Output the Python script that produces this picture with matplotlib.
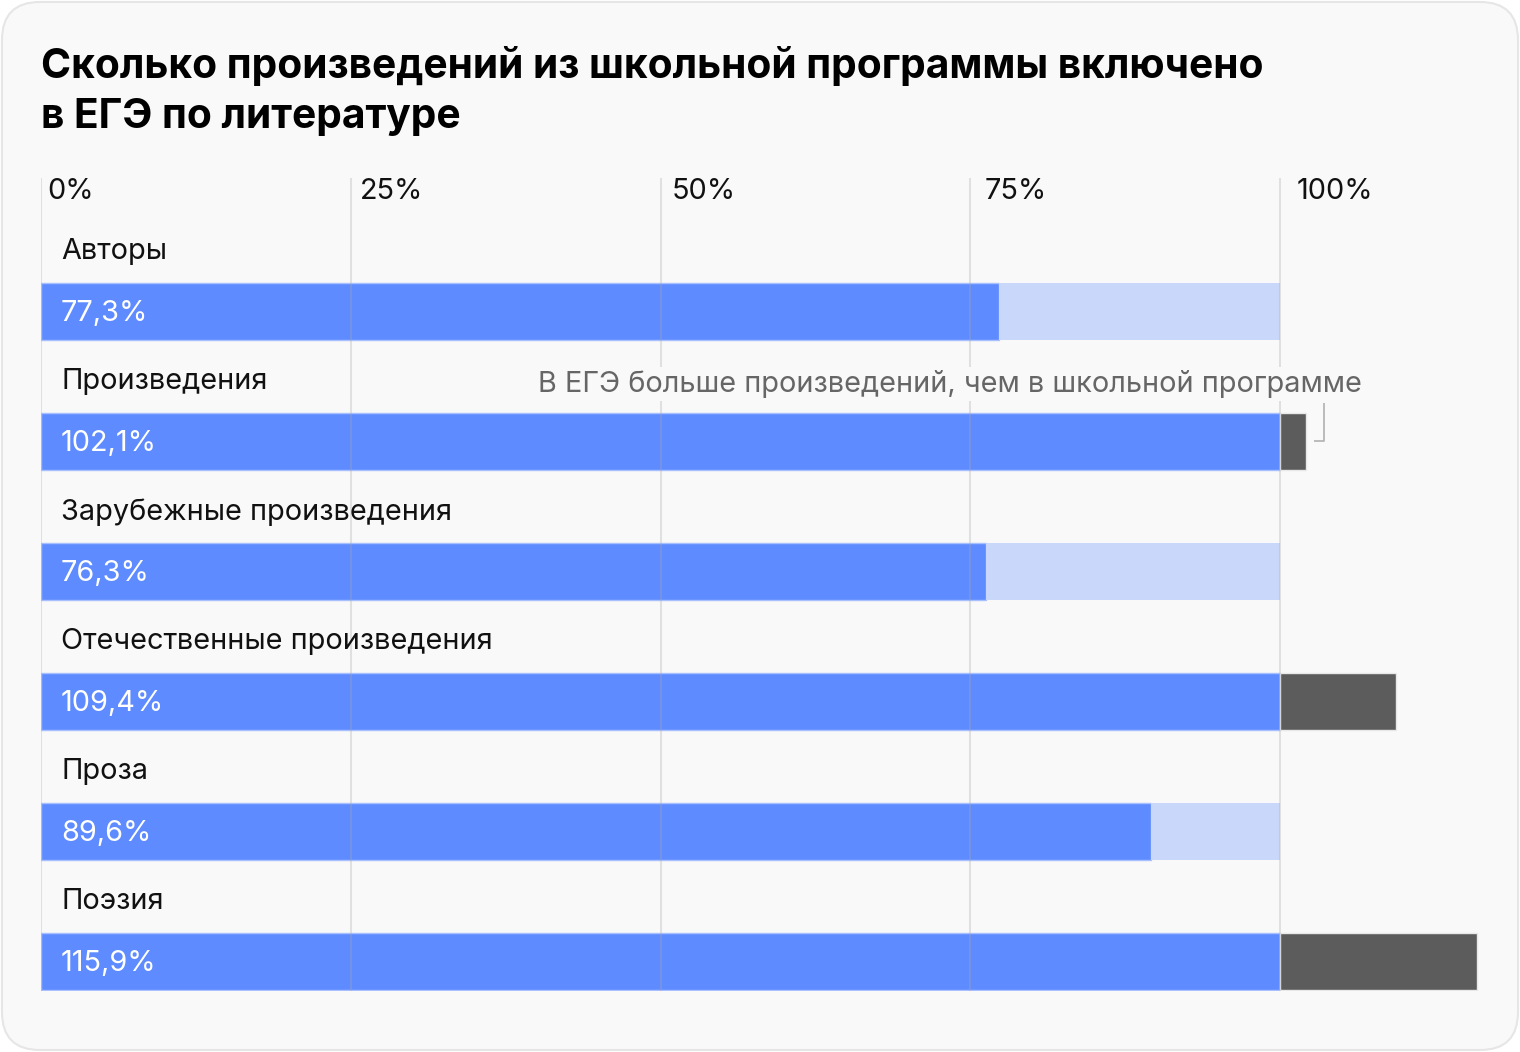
import matplotlib
matplotlib.use("Agg")
import matplotlib.pyplot as plt
from matplotlib.patches import FancyBboxPatch

categories = [
    "Авторы",
    "Произведения",
    "Зарубежные произведения",
    "Отечественные произведения",
    "Проза",
    "Поэзия",
]
values = [77.3, 102.1, 76.3, 109.4, 89.6, 115.9]
ticks = [0, 25, 50, 75, 100]
tick_labels = ["0%", "25%", "50%", "75%", "100%"]
title = "Сколько произведений из школьной программы включено\nв ЕГЭ по литературе"
note = "В ЕГЭ больше произведений, чем в школьной программе"

BLUE = "#5e8bff"
LIGHT = "#c9d8fa"
DARK = "#5c5c5c"
BG = "#f9f9f9"
FONT = ["Inter", "DejaVu Sans"]

W, H = 1520, 1052
fig = plt.figure(figsize=(W / 100, H / 100), dpi=100)
fig.patch.set_facecolor("white")
bg = FancyBboxPatch(
    (2 / W, 2 / H), (W - 4) / W, (H - 4) / H,
    boxstyle="round,pad=0,rounding_size=0.025",
    transform=fig.transFigure, facecolor=BG, edgecolor="#e6e6e6",
    linewidth=1.5, mutation_aspect=W / H, zorder=-5,
)
fig.patches.append(bg)

fig.text(41 / W, 1 - 91 / H, title, fontsize=29.3, fontweight="bold",
         family=FONT, va="center", ha="left", linespacing=1.4)

# axes: x 0% at px 41, 100% at px 1280; rows every 130 px
px_per = (1280 - 41) / 100
left, right = 41, 1500
top, bottom = 178, 990.5
ax = fig.add_axes([left / W, 1 - bottom / H, (right - left) / W, (bottom - top) / H])
ax.set_xlim(0, (right - left) / px_per)
ax.set_ylim(5 + 28.5 / 130, (top - 312) / 130)
ax.set_facecolor("none")
ax.axis("off")

fs = 20.8
bh = 57 / 130
for i, v in enumerate(values):
    ax.barh(i, min(v, 100), height=bh, color=BLUE, edgecolor="#a9c0ff", linewidth=1, zorder=2)
    if v < 100:
        ax.barh(i, 100 - v, left=v, height=bh, color=LIGHT, linewidth=0, zorder=2)
    else:
        ax.barh(i, v - 100, left=100, height=bh, color=DARK, edgecolor="#e8e8e8", linewidth=1, zorder=2)
    ax.text(20 / px_per, i + 2 / 130, f"{v:.1f}".replace(".", ",") + "%", color="white",
            fontsize=fs, family=FONT, va="center", ha="left", zorder=4)
    ax.text(20 / px_per, i - 60 / 130, categories[i], color="#111111",
            fontsize=fs, family=FONT, va="center", ha="left", zorder=4)

ylo, yhi = ax.get_ylim()
for t, lab in zip(ticks, tick_labels):
    ax.plot([t, t], [ylo, yhi], color="#a8a8a8", linewidth=1.5, alpha=0.3, zorder=3)
    ax.text(t + (6 + 0.11 * t) / px_per, (192 - 312) / 130, lab, color="#111111",
            fontsize=fs, family=FONT, va="center", ha="left", zorder=4)

# note for the "Произведения" row
ax.text((1362 - 41) / px_per, 1 - 58 / 130, note, color="#666666",
        fontsize=fs, family=FONT, va="center", ha="right", zorder=4,
        bbox=dict(facecolor=BG, edgecolor="none", pad=2))
xb = (1324 - 41) / px_per
ax.plot([xb, xb, (1314 - 41) / px_per], [1 - 39 / 130, 1 - 1 / 130, 1 - 1 / 130],
        color="#b0b0b0", linewidth=1.2, zorder=4, solid_capstyle="butt")

fig.savefig("out.png", dpi=100, facecolor=fig.get_facecolor())
